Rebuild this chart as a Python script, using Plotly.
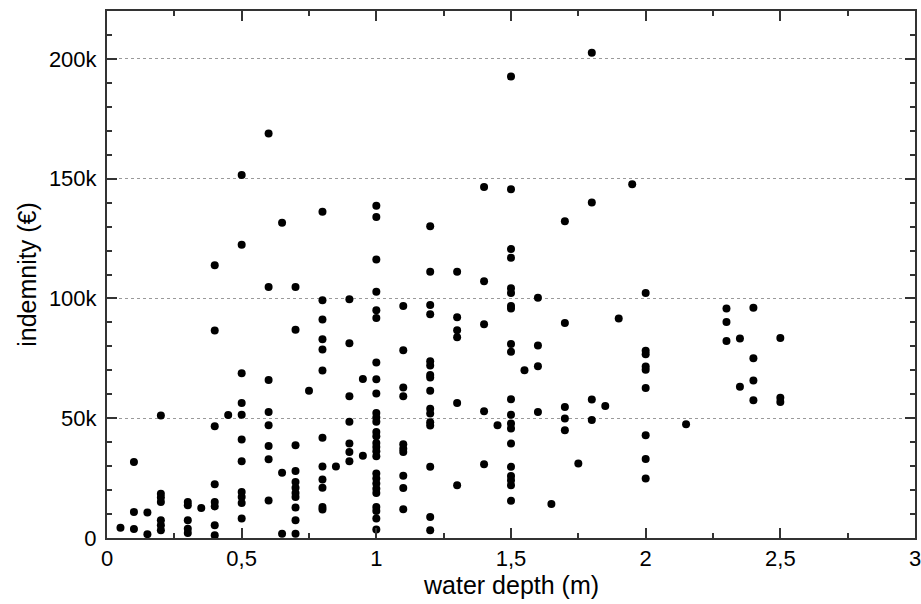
import plotly.graph_objects as go

# water depth (m) -> indemnity (k EUR), grouped by depth
depth_groups = [0.05, 0.1, 0.15, 0.2, 0.3, 0.35, 0.4, 0.45, 0.5, 0.6, 0.65, 0.7,
                0.75, 0.8, 0.85, 0.9, 0.95, 1.0, 1.1, 1.2, 1.3, 1.4, 1.45, 1.5,
                1.55, 1.6, 1.65, 1.7, 1.75, 1.8, 1.85, 1.9, 1.95, 2.0, 2.15,
                2.3, 2.35, 2.4, 2.5]
indemnity_k = [
    [4.3],
    [31.7, 10.9, 3.8],
    [10.6, 1.6],
    [51.1, 18.5, 16.9, 15.0, 7.4, 5.3, 3.2],
    [15.0, 13.7, 7.4, 3.9, 2.1],
    [12.5],
    [113.9, 86.6, 46.7, 22.4, 15.0, 13.2, 5.3, 1.1],
    [51.3],
    [151.5, 122.4, 68.8, 56.4, 51.5, 41.1, 32.0, 19.2, 17.1, 14.6, 8.1],
    [168.9, 104.8, 66.0, 52.6, 47.1, 38.4, 32.9, 15.7],
    [131.6, 27.2, 1.8],
    [104.8, 86.9, 38.7, 28.0, 23.4, 21.0, 18.8, 17.1, 12.7, 7.4, 1.8],
    [61.5],
    [136.2, 99.2, 91.2, 83.0, 78.7, 69.9, 41.9, 29.9, 24.4, 21.0, 12.9, 11.9],
    [29.9],
    [99.7, 81.3, 59.2, 48.5, 39.4, 35.9, 32.0],
    [66.4, 34.3],
    [138.7, 134.0, 116.3, 102.8, 95.1, 91.8, 73.3, 66.3, 60.3, 52.2, 50.3, 48.5,
     44.3, 42.5, 39.7, 38.0, 36.2, 34.1, 26.9, 24.8, 22.7, 20.6, 18.8, 12.9,
     11.3, 8.1, 3.6],
    [96.9, 78.4, 62.8, 59.2, 39.1, 37.3, 35.9, 26.0, 20.9, 12.0],
    [130.1, 111.1, 97.3, 93.4, 73.8, 72.0, 68.0, 67.0, 61.5, 54.0, 52.0, 48.3,
     47.0, 29.7, 8.8, 3.2],
    [111.1, 92.2, 86.7, 83.8, 56.4, 22.0],
    [146.5, 107.2, 89.2, 52.9, 30.8],
    [47.1],
    [192.7, 145.6, 120.6, 117.0, 104.3, 102.3, 96.9, 95.8, 81.0, 77.7, 57.9,
     51.5, 47.8, 45.7, 39.4, 29.7, 25.9, 24.1, 22.0, 15.5],
    [70.0],
    [100.3, 80.4, 71.7, 52.6],
    [14.2],
    [132.2, 89.8, 54.7, 49.9, 45.0],
    [31.1],
    [202.6, 140.1, 57.8, 49.3],
    [55.1],
    [91.6],
    [147.7],
    [102.3, 78.2, 76.7, 71.6, 70.2, 62.6, 42.9, 33.0, 24.8],
    [47.5],
    [95.8, 90.2, 82.2],
    [83.3, 63.1],
    [96.1, 75.0, 65.7, 57.5],
    [83.5, 58.6, 56.8],
]

x_tick_vals = [0, 0.5, 1, 1.5, 2, 2.5, 3]
x_tick_text = ["0", "0,5", "1", "1,5", "2", "2,5", "3"]
y_tick_vals = [0, 50000, 100000, 150000, 200000]
y_tick_text = ["0", "50k", "100k", "150k", "200k"]

xs, ys = [], []
for d, vals in zip(depth_groups, indemnity_k):
    for v in vals:
        xs.append(d)
        ys.append(v * 1000)

font = "Liberation Sans, Arial, sans-serif"

fig = go.Figure(go.Scatter(
    x=xs, y=ys, mode="markers",
    marker=dict(color="black", size=8, line=dict(width=0)),
    showlegend=False, hoverinfo="x+y"))

axis_common = dict(
    showline=True, linecolor="#333333", linewidth=2, mirror="allticks",
    ticks="inside", ticklen=10, tickwidth=1.5, tickcolor="#333333",
    tickfont=dict(family=font, size=22, color="black"),
    zeroline=False, automargin=False, ticklabeloverflow="allow",
)

fig.update_xaxes(
    **axis_common, range=[0, 3], tickvals=x_tick_vals, ticktext=x_tick_text,
    showgrid=False,
    minor=dict(dtick=0.25, tick0=0, ticks="inside", ticklen=5, tickcolor="#333333", showgrid=False),
)
fig.update_yaxes(
    **axis_common, range=[0, 220000], tickvals=y_tick_vals, ticktext=y_tick_text,
    showgrid=True, gridcolor="#9a9a9a", griddash="dot", gridwidth=1,
    ticklabelstandoff=4,
    minor=dict(dtick=10000, tick0=0, ticks="inside", ticklen=5, tickcolor="#333333", showgrid=False),
    title=dict(text="indemnity (€)", font=dict(family=font, size=25, color="black"), standoff=5),
)

# x title as an annotation so it can sit close to the tick labels
fig.add_annotation(
    text="water depth (m)", xref="paper", yref="paper", x=0.5, y=0,
    xanchor="center", yanchor="middle", yshift=-47, showarrow=False,
    font=dict(family=font, size=25, color="black"),
)

fig.update_layout(
    width=921, height=604,
    margin=dict(l=107, r=6, t=11, b=66),
    paper_bgcolor="white", plot_bgcolor="white",
)

# the page's default body margin would shift the whole figure by 8px
fig.write_html("out.html", config={"displayModeBar": False},
               post_script="document.body.style.margin='0';")
